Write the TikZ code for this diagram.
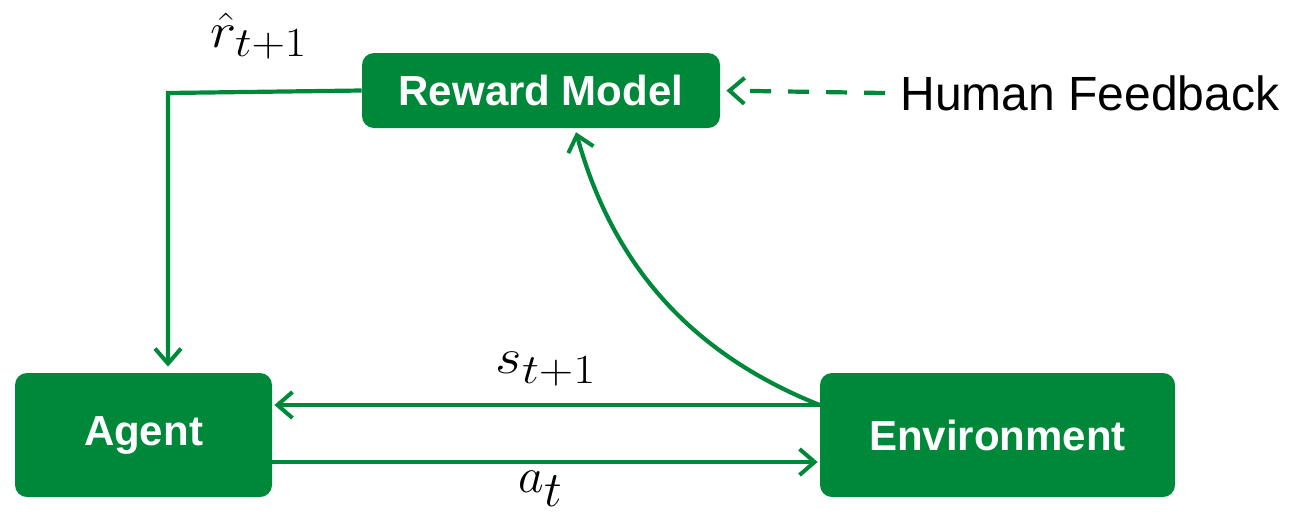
\documentclass[tikz,border=0pt]{standalone}
\usepackage{fontspec}
\setmainfont{Liberation Sans}
\usetikzlibrary{arrows.meta}
\definecolor{rlgreen}{RGB}{0,136,58}
\tikzset{
  box/.style={fill=rlgreen, draw=none, rounded corners=6pt, text=white,
              font=\fontsize{21}{25}\selectfont\bfseries, inner sep=0pt},
  conn/.style={draw=rlgreen, line width=2.1pt, -{Straight Barb[length=7.5pt,width=13pt,line width=2pt]}},
  mlabel/.style={inner sep=0pt},
}
\begin{document}
\begin{tikzpicture}[x=0.5pt,y=-0.5pt]
\useasboundingbox (0,0) rectangle (1289,515);
\node[box, minimum width=179pt, minimum height=37.5pt] (RM) at (541,90.5) {Reward Model};
\node[box, minimum width=128.5pt, minimum height=62pt] (Agent) at (143.5,435) {Agent};
\node[box, minimum width=177.5pt, minimum height=62pt] (Env) at (997.5,435) {Environment};
\node[anchor=west, inner sep=0pt, font=\fontsize{24}{28}\selectfont] (HF) at (900,93) {Human Feedback};
\coordinate (corner) at (168,93);
% r hat
\draw[conn, shorten >=3pt] (RM.west) -- (corner) -- (corner |- Agent.north);
% human feedback dashed
\draw[conn, dash pattern=on 10.5pt off 8.5pt, shorten >=3pt] ([xshift=-7.5pt]HF.west) -- (RM.east);
% s_{t+1}
\draw[conn, shorten >=1pt] ([yshift=15pt]Env.west) -- ([yshift=15pt]Agent.east);
% a_t
\draw[conn, shorten >=1pt] ([yshift=-13.5pt]Agent.east) -- ([yshift=-13.5pt]Env.west);
% curve to reward model
\coordinate (rmin) at ([xshift=17pt]RM.south);
\draw[conn, shorten >=2pt] ([yshift=15pt]Env.west) .. controls (720,365) and (620,292) .. (rmin);
% labels
\node[mlabel] (lr) at (259,36) {\scalebox{1.12}[1]{\fontsize{30}{34}\selectfont$\hat{r}_{t+1}$}};
\node[mlabel] (ls) at (546,369) {\scalebox{1.15}[1]{\fontsize{29}{33}\selectfont$s_{t+1}$}};
\node[mlabel] (la) at (541,489) {\fontsize{33}{37}\selectfont$a_t$};
\end{tikzpicture}
\end{document}
